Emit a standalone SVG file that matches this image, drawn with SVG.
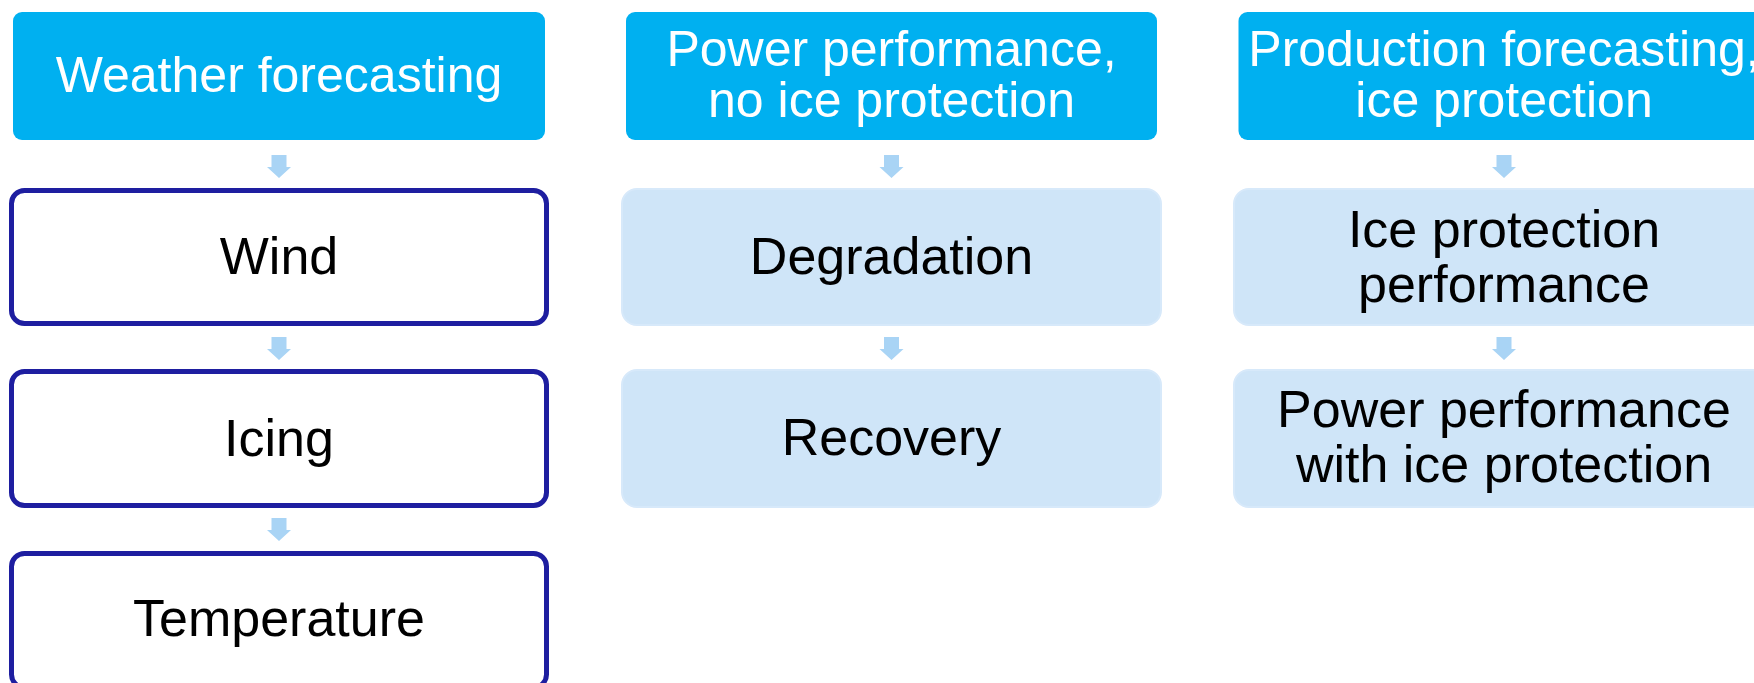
<svg xmlns="http://www.w3.org/2000/svg" width="1754" height="683" viewBox="0 0 1754 683">
  <defs>
    <style>
      .head { fill: #00b0f0; }
      .step { fill: #ffffff; stroke: #1e1ea0; stroke-width: 5; }
      .soft { fill: #cfe5f8; stroke: #d7e9fa; stroke-width: 2; }
      .arrow { fill: #a9d4f5; }
      .th { font-family: "Liberation Sans", Arial, sans-serif; font-size: 50px; fill: #ffffff; text-anchor: middle; }
      .tb { font-family: "Liberation Sans", Arial, sans-serif; font-size: 52px; fill: #000000; text-anchor: middle; }
    </style>
    <!-- block arrow pointing down, tip at (0,23) -->
    <path id="down" d="M -7.5 0 H 7.5 V 12 H 12 L 0 23 L -12 12 H -7.5 Z"/>
  </defs>
  <rect width="1754" height="683" fill="#ffffff"/>

  <g id="connectors">
    <use href="#down" class="arrow" x="279" y="155"/>
    <use href="#down" class="arrow" x="279" y="337"/>
    <use href="#down" class="arrow" x="279" y="518"/>
    <use href="#down" class="arrow" x="891.5" y="155"/>
    <use href="#down" class="arrow" x="891.5" y="337"/>
    <use href="#down" class="arrow" x="1504" y="155"/>
    <use href="#down" class="arrow" x="1504" y="337"/>
  </g>

  <!-- column 1 -->
  <g id="weather-forecasting">
    <rect class="head" x="13" y="12" width="532" height="128" rx="9"/>
    <text class="th" x="279" y="92">Weather forecasting</text>
  </g>
  <g id="wind">
    <rect class="step" x="11.5" y="190.5" width="535" height="133" rx="13"/>
    <text class="tb" x="279" y="274">Wind</text>
  </g>
  <g id="icing">
    <rect class="step" x="11.5" y="371.5" width="535" height="134" rx="13"/>
    <text class="tb" x="279" y="456">Icing</text>
  </g>
  <g id="temperature">
    <rect class="step" x="11.5" y="553.5" width="535" height="134" rx="13"/>
    <text class="tb" x="279" y="636">Temperature</text>
  </g>

  <!-- column 2 -->
  <g id="power-no-ice-protection">
    <rect class="head" x="626" y="12" width="531" height="128" rx="9"/>
    <text class="th" x="891.5" y="66">Power performance,</text>
    <text class="th" x="891.5" y="117">no ice protection</text>
  </g>
  <g id="degradation">
    <rect class="soft" x="622" y="189" width="539" height="136" rx="15"/>
    <text class="tb" x="891.5" y="274">Degradation</text>
  </g>
  <g id="recovery">
    <rect class="soft" x="622" y="370" width="539" height="137" rx="15"/>
    <text class="tb" x="891.5" y="455">Recovery</text>
  </g>

  <!-- column 3 -->
  <g id="production-ice-protection">
    <rect class="head" x="1238.5" y="12" width="532" height="128" rx="9"/>
    <text class="th" x="1504" y="66">Production forecasting,</text>
    <text class="th" x="1504" y="117">ice protection</text>
  </g>
  <g id="ice-protection-performance">
    <rect class="soft" x="1234" y="189" width="540" height="136" rx="15"/>
    <text class="tb" x="1504" y="247">Ice protection</text>
    <text class="tb" x="1504" y="302">performance</text>
  </g>
  <g id="power-with-ice-protection">
    <rect class="soft" x="1234" y="370" width="540" height="137" rx="15"/>
    <text class="tb" x="1504" y="427">Power performance</text>
    <text class="tb" x="1504" y="482">with ice protection</text>
  </g>
</svg>
